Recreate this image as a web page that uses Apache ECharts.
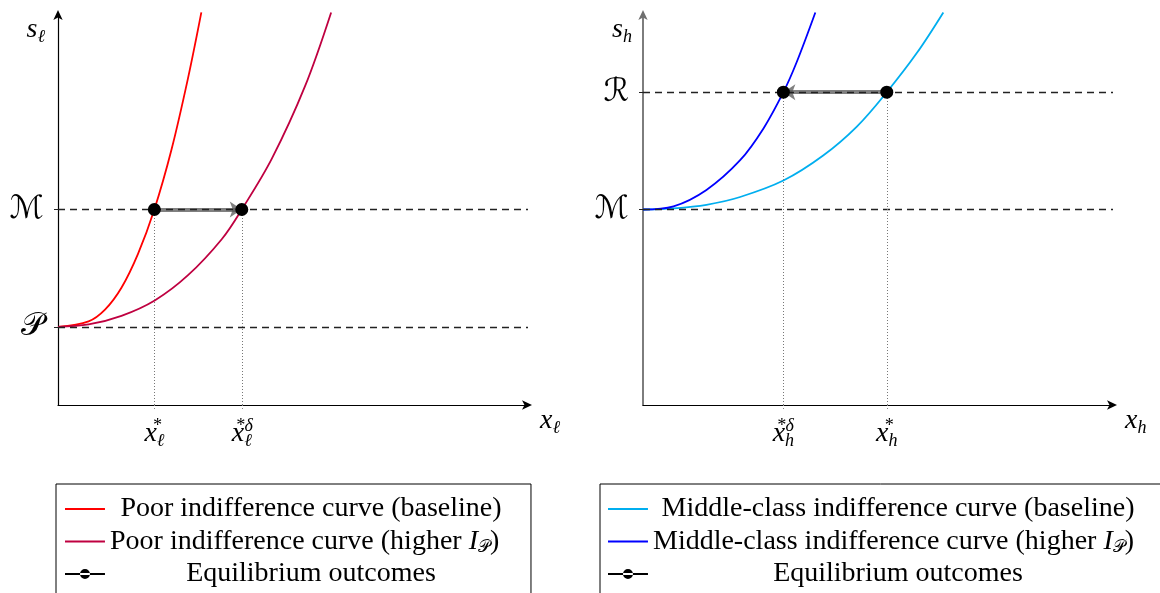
<!DOCTYPE html>
<html><head><meta charset="utf-8">
<script src="https://cdn.jsdelivr.net/npm/echarts@6/dist/echarts.min.js"></script>
<style>html,body{margin:0;padding:0;background:#fff}#c{width:1160px;height:593px}</style>
</head><body><div id="c"></div>
<script>
// ---- data ----
const levelP = 1.0, levelM = 2.5, levelR = 4.0;
const poorBaseline = [[0,1],[0.39,1.07],[0.6,1.22],[0.81,1.5],[1.02,1.93],[1.23,2.5],[1.45,3.27],[1.66,4.18],[1.83,5.02]];
const poorHigher   = [[0,1],[0.39,1.03],[0.81,1.14],[1.24,1.34],[1.66,1.66],[2.09,2.12],[2.346,2.5],[2.73,3.15],[3.155,4.08],[3.487,5.02]];
const midBaseline  = [[0,2.5],[0.39,2.515],[0.81,2.56],[1.24,2.66],[1.792,2.87],[2.3,3.19],[2.73,3.56],[3.112,4.0],[3.495,4.5],[3.834,5.02]];
const midHigher    = [[0,2.5],[0.39,2.54],[0.81,2.75],[1.24,3.13],[1.54,3.54],[1.792,4.0],[1.96,4.38],[2.2,5.02]];
const xStarL = 1.23, xStarDeltaL = 2.346;
const xStarH = 3.112, xStarDeltaH = 1.792;
const leftYTicks = [levelP, levelM];
const leftYTickLabels = ['{cal|𝒫}', '{cal|ℳ}'];
const rightYTicks = [levelM, levelR];
const rightYTickLabels = ['{cal|ℳ}', '{cal|ℛ}'];
const leftXTicks = [xStarL, xStarDeltaL];
const leftXTickLabels = ['{x|x}{sup|*}{sub|ℓ}', '{x|x}{sup|*δ}{sub|ℓ}'];
const rightXTicks = [xStarDeltaH, xStarH];
const rightXTickLabels = ['{x|x}{sup|*δ}{sub|h}', '{x|x}{sup|*}{sub|h}'];
const leftNames = ['Poor indifference curve (baseline)', 'Poor indifference curve (higher I_P)', 'Equilibrium outcomes'];
const leftNameLabels = ['{c|Poor indifference curve (baseline)}', '{t|Poor indifference curve (higher }{i|I}{s|𝒫}{t|)}', '{c|Equilibrium outcomes}'];
const rightNames = ['Middle-class indifference curve (baseline)', 'Middle-class indifference curve (higher I_P)', 'Equilibrium outcomes '];
const rightNameLabels = ['{c|Middle-class indifference curve (baseline)}', '{t|Middle-class indifference curve (higher }{i|I}{s|𝒫}{t|)}', '{c|Equilibrium outcomes}'];

// ---- styling ----
const SERIF = "'Liberation Serif', 'DejaVu Serif', serif";
const CAL = "'DejaVu Sans', 'DejaVu Serif', serif";
const mathRich = {
  x: {fontFamily: SERIF, fontStyle: 'italic', fontSize: 28, color: '#000', lineHeight: 28},
  sup: {fontFamily: SERIF, fontStyle: 'italic', fontSize: 18, color: '#000', lineHeight: 18, padding: [0,0,16,0], width: 0},
  sub: {fontFamily: SERIF, fontStyle: 'italic', fontSize: 18, color: '#000', lineHeight: 18, padding: [14,0,0,0]},
  i: {fontFamily: SERIF, fontStyle: 'italic', fontSize: 28, color: '#000', lineHeight: 28},
  cal: {fontFamily: CAL, fontSize: 32, color: '#000'}
};
const ICON_LINE = 'path://M0,0h0.01v0.01h-0.01z M0,5h40v2h-40z M0,12h0.01v0.01h-0.01z';
const ICON_DOT = 'path://M0,0h0.01v0.01h-0.01z M0,5h40v2h-40z M25,6A5,5 0 1,0 15,6A5,5 0 1,0 25,6z M0,12h0.01v0.01h-0.01z';

function legendRich(w) {
  return {
    c: {fontFamily: SERIF, fontSize: 28, color: '#000', width: w, align: 'center', lineHeight: 30},
    t: {fontFamily: SERIF, fontSize: 28, color: '#000', lineHeight: 30},
    i: {fontFamily: SERIF, fontSize: 28, fontStyle: 'italic', color: '#000', lineHeight: 30},
    s: {fontFamily: CAL, fontSize: 17, color: '#000', lineHeight: 18, padding: [12,0,0,0]}
  };
}

function xAxisCfg(idx, ticks, labels, nameSub) {
  return {
    type: 'value', gridIndex: idx, min: 0, max: 6,
    name: '{i|x}{sub|' + nameSub + '}', nameLocation: 'end', nameGap: 12,
    nameTextStyle: {rich: mathRich, align: 'left', verticalAlign: 'middle', padding: [32,0,0,0]},
    axisLine: {show: true, lineStyle: {color: '#000', width: 1.2}, symbol: ['none', 'arrow'], symbolSize: [7, 10], symbolOffset: [0, 4]},
    axisTick: {show: true, customValues: ticks, length: 5, lineStyle: {color: '#888', type: [1,2]}},
    axisLabel: {show: true, customValues: ticks, margin: 15, rich: mathRich,
      formatter: v => labels[ticks.indexOf(v)]},
    splitLine: {show: false}
  };
}
function yAxisCfg(idx, ticks, labels, nameSub, color, width, padRight) {
  return {
    type: 'value', gridIndex: idx, min: 0, max: 5,
    name: '{i|s}{sub|' + nameSub + '}', nameLocation: 'end', nameGap: -16,
    nameTextStyle: {rich: mathRich, align: 'right', verticalAlign: 'middle', padding: [0, padRight, 0, 0]},
    axisLine: {show: true, lineStyle: {color: color, width: width}, symbol: ['none', 'arrow'], symbolSize: [7, 10], symbolOffset: [0, 4]},
    axisTick: {show: true, customValues: ticks, length: 6, lineStyle: {color: '#222', type: [4,3]}},
    axisLabel: {show: true, customValues: ticks, margin: 14, rich: mathRich,
      formatter: v => labels[ticks.indexOf(v)]},
    splitLine: {show: false}
  };
}
function curve(name, data, color, gi, markLine) {
  const s = {type: 'line', name: name, xAxisIndex: gi, yAxisIndex: gi, data: data, smooth: 0.35,
    symbol: 'none', showSymbol: false, color: color, lineStyle: {color: color, width: 1.8}, clip: false, z: 3, silent: true};
  if (markLine) s.markLine = markLine;
  return s;
}
function guides(levels, xs, top) {
  const d = levels.map(l => ({yAxis: l, lineStyle: {type: [7,5], color: '#222', width: 1.3}}));
  xs.forEach(x => d.push([{coord: [x, 0], lineStyle: {type: [1,2], color: '#777', width: 1}}, {coord: [x, top]}]));
  return {silent: true, symbol: 'none', label: {show: false}, data: d, animation: false};
}
function arrow(gi, from, to, y) {
  return {type: 'lines', coordinateSystem: 'cartesian2d', xAxisIndex: gi, yAxisIndex: gi, silent: true,
    data: [{coords: [[from, y], [to, y]]}], symbol: ['none', 'arrow'], symbolSize: 12,
    lineStyle: {color: '#555', width: 4, opacity: 0.75}, z: 4};
}
function dots(name, gi, pts) {
  return {type: 'scatter', name: name, xAxisIndex: gi, yAxisIndex: gi, data: pts, symbol: 'circle', symbolSize: 13,
    color: '#000', itemStyle: {color: '#000', opacity: 1}, z: 5, silent: true};
}

const chart = echarts.init(document.getElementById('c'), null, {renderer: 'canvas'});
chart.setOption({
  animation: false,
  backgroundColor: '#fff',
  grid: [
    {left: 58, top: 14, width: 470, height: 391},
    {left: 643, top: 14, width: 470, height: 391}
  ],
  xAxis: [xAxisCfg(0, leftXTicks, leftXTickLabels, 'ℓ'), xAxisCfg(1, rightXTicks, rightXTickLabels, 'h')],
  yAxis: [yAxisCfg(0, leftYTicks, leftYTickLabels, 'ℓ', '#000', 1.2, 13), yAxisCfg(1, rightYTicks, rightYTickLabels, 'h', '#6f6f6f', 1.8, 11)],
  legend: [
    {left: 56, top: 484, height: 300, orient: 'vertical', selectedMode: false, borderColor: '#000', borderWidth: 1,
     padding: [11, 19, 40, 9], itemWidth: 40, itemHeight: 12, itemGap: 4,
     data: leftNames.map((n, k) => ({name: n, icon: k === 2 ? ICON_DOT : ICON_LINE})),
     formatter: n => leftNameLabels[leftNames.indexOf(n)],
     textStyle: {rich: legendRich(402), fontFamily: SERIF, fontSize: 28, color: '#000'}},
    {left: 600, top: 484, height: 300, orient: 'vertical', selectedMode: false, borderColor: '#000', borderWidth: 1,
     padding: [11, 30, 40, 8], itemWidth: 40, itemHeight: 12, itemGap: 4,
     data: rightNames.map((n, k) => ({name: n, icon: k === 2 ? ICON_DOT : ICON_LINE})),
     formatter: n => rightNameLabels[rightNames.indexOf(n)],
     textStyle: {rich: legendRich(490), fontFamily: SERIF, fontSize: 28, color: '#000'}}
  ],
  series: [
    curve(leftNames[0], poorBaseline, '#ff0000', 0, guides([levelP, levelM], [xStarL, xStarDeltaL], levelM)),
    curve(leftNames[1], poorHigher, '#bf0040', 0),
    arrow(0, xStarL, xStarDeltaL, levelM),
    dots(leftNames[2], 0, [[xStarL, levelM], [xStarDeltaL, levelM]]),
    curve(rightNames[0], midBaseline, '#00aeef', 1, guides([levelM, levelR], [xStarDeltaH, xStarH], levelR)),
    curve(rightNames[1], midHigher, '#0000ff', 1),
    arrow(1, xStarH, xStarDeltaH, levelR),
    dots(rightNames[2], 1, [[xStarDeltaH, levelR], [xStarH, levelR]])
  ]
});
</script></body></html>
